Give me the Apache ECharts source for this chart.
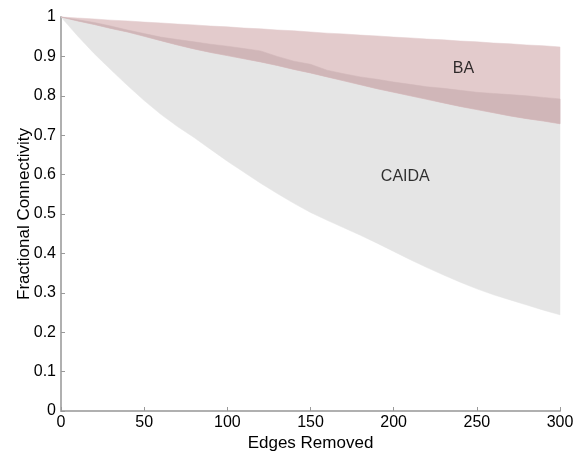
<!DOCTYPE html>
<html>
<head>
<meta charset="utf-8">
<script src="https://cdn.jsdelivr.net/npm/echarts@6/dist/echarts.min.js"></script>
<style>html,body{margin:0;padding:0;background:#fff}#c{width:576px;height:452px}</style>
</head>
<body>
<div id="c"></div>
<script>
var edges = [0,10,20,30,40,50,60,70,80,90,100,110,120,130,140,150,160,170,180,190,200,210,220,230,240,250,260,270,280,290,300];
var baUpper = [1,0.9975,0.995,0.992,0.990,0.987,0.985,0.982,0.980,0.977,0.975,0.972,0.970,0.967,0.965,0.962,0.959,0.957,0.954,0.952,0.949,0.947,0.944,0.942,0.939,0.937,0.934,0.932,0.929,0.927,0.924];
var baLower = [1,0.990,0.981,0.971,0.962,0.951,0.940,0.929,0.919,0.910,0.902,0.894,0.886,0.877,0.867,0.858,0.848,0.838,0.828,0.818,0.809,0.800,0.791,0.782,0.773,0.765,0.757,0.749,0.742,0.736,0.729];
var caidaUpper = [1,0.993,0.986,0.977,0.967,0.958,0.949,0.943,0.937,0.931,0.926,0.920,0.914,0.900,0.888,0.880,0.865,0.856,0.848,0.842,0.835,0.829,0.823,0.819,0.814,0.809,0.806,0.803,0.800,0.796,0.792];
var caidaLower = [1,0.952,0.907,0.866,0.826,0.788,0.753,0.722,0.694,0.664,0.634,0.606,0.578,0.552,0.527,0.504,0.484,0.465,0.446,0.426,0.405,0.384,0.364,0.345,0.327,0.310,0.295,0.282,0.269,0.256,0.244];
var labelNames = ['BA','CAIDA'];
var labelX = [242,207];
var labelY = [0.868,0.595];

function bandSeries(lower, upper, color){
  return {
    type:'custom', silent:true, data:[[0,0]], encode:{x:0,y:1},
    renderItem:function(params, api){
      var pts = [];
      for (var i=0;i<edges.length;i++) pts.push(api.coord([edges[i], upper[i]]));
      for (var j=edges.length-1;j>=0;j--) pts.push(api.coord([edges[j], lower[j]]));
      return {type:'polygon', shape:{points:pts}, style:{fill:color, stroke:color, lineWidth:0.5}};
    }
  };
}

var series = [
  bandSeries(caidaLower, caidaUpper, '#e5e5e5'),
  bandSeries(baLower, baUpper, '#e3cbcc'),
  bandSeries(baLower, caidaUpper.map(function(v,i){return Math.max(v, baLower[i]);}), '#d0b6b8'),
  {type:'scatter', symbolSize:0, silent:true,
    data: labelNames.map(function(n,i){return {value:[labelX[i],labelY[i]], name:n};}),
    label:{show:true, position:'inside', formatter:'{b}', color:'#000', fontSize:16, fontFamily:'Liberation Sans'}}
];

var chart = echarts.init(document.getElementById('c'), null, {renderer:'canvas'});
var axisColor = '#b0b0b0';
chart.setOption({
  animation:false,
  backgroundColor:'#fff',
  grid:{left:61, right:16, top:17, bottom:41, containLabel:false, outerBoundsMode:'none'},
  xAxis:{type:'value', min:0, max:300, interval:50,
    name:'Edges Removed', nameLocation:'middle', nameGap:24, nameMoveOverlap:false,
    nameTextStyle:{color:'#000', fontSize:17, fontFamily:'Liberation Sans'},
    axisLine:{show:true, lineStyle:{color:axisColor, width:2}},
    axisTick:{show:true, inside:true, length:4, lineStyle:{color:'#999'}},
    axisLabel:{color:'#000', fontSize:16, margin:4, fontFamily:'Liberation Sans'},
    splitLine:{show:false}},
  yAxis:{type:'value', min:0, max:1, interval:0.1,
    name:'Fractional Connectivity', nameLocation:'middle', nameGap:28, nameMoveOverlap:false,
    nameTextStyle:{color:'#000', fontSize:17, fontFamily:'Liberation Sans'},
    axisLine:{show:true, lineStyle:{color:axisColor, width:2}},
    axisTick:{show:true, inside:true, length:4, lineStyle:{color:'#999'}},
    axisLabel:{color:'#000', fontSize:16, margin:5, fontFamily:'Liberation Sans',
      formatter:function(v){ return String(+v.toFixed(1)); }},
    splitLine:{show:false}},
  series:series
});
</script>
</body>
</html>
